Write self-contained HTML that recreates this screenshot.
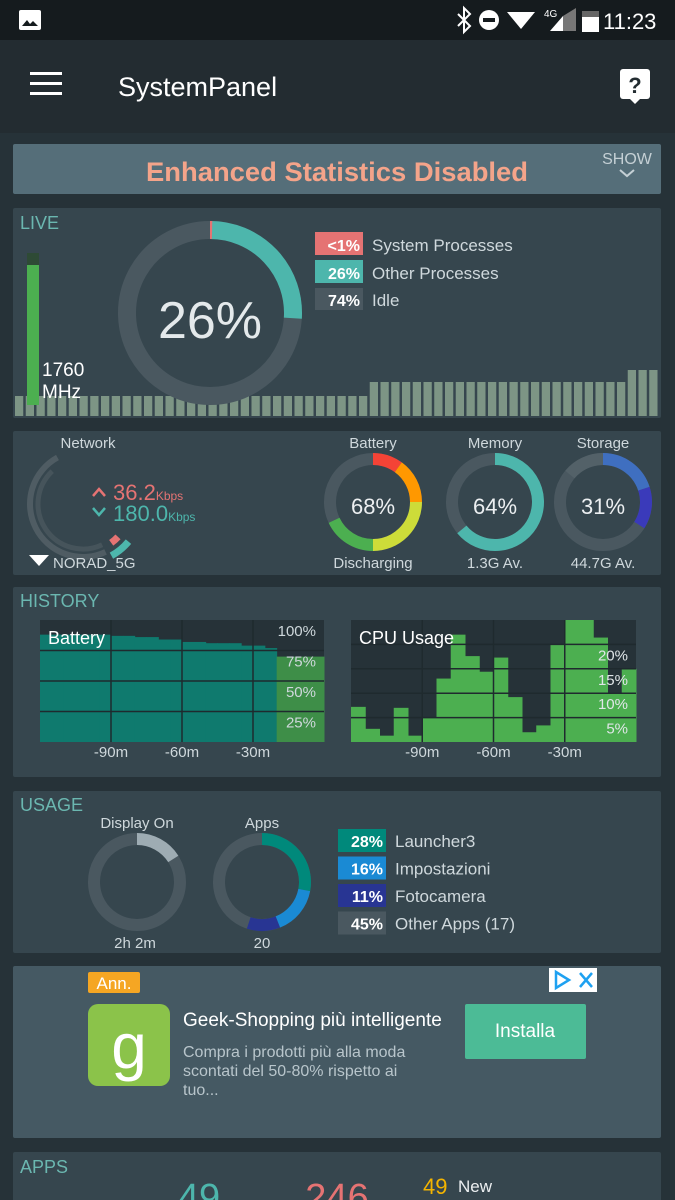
<!DOCTYPE html>
<html><head><meta charset="utf-8"><style>
html,body{margin:0;padding:0;background:#263238;}
svg{display:block;font-family:"Liberation Sans",sans-serif;}
</style></head><body>
<svg id="root" width="675" height="1200" viewBox="0 0 675 1200" xmlns="http://www.w3.org/2000/svg">
<rect width="675" height="1200" fill="#263238"/>
<!-- status bar -->
<rect x="0" y="0" width="675" height="40" fill="#151b1e"/>
<rect x="19" y="10" width="22" height="20" rx="2" fill="#fff"/>
<path d="M22 26 L27 20 L30 24 L33 21 L38 26 Z" fill="#151b1e"/>
<path d="M458 14 L470 26 L464 32 L464 8 L470 14 L458 26" stroke="#fff" stroke-width="2" fill="none"/>
<circle cx="489" cy="20" r="10" fill="#fff"/>
<rect x="483" y="18" width="12" height="4" fill="#151b1e"/>
<path d="M507 12 L535 12 L521 29 Z" fill="#fff"/>
<text x="544" y="17" fill="#fff" font-size="10">4G</text>
<path d="M550 31 L563 16 L563 31 Z" fill="#fff"/><path d="M563 16 L576 8 L576 31 L563 31 Z" fill="#777"/>
<rect x="582" y="11" width="17" height="21" fill="#fff"/>
<rect x="582" y="11" width="17" height="6" fill="#666"/>
<text x="603" y="29" fill="#fff" font-size="22">11:23</text>
<!-- app bar -->
<rect x="0" y="40" width="675" height="93" fill="#232c31"/>
<g><rect x="30" y="72" width="32" height="3" fill="#fff"/><rect x="30" y="82" width="32" height="3" fill="#fff"/><rect x="30" y="92" width="32" height="3" fill="#fff"/></g>
<text x="118" y="96" fill="#fff" font-size="27">SystemPanel</text>
<g><rect x="620" y="69" width="30" height="30" rx="3" fill="#fff"/><path d="M630 99 L635 104 L640 99 Z" fill="#fff"/><text x="635" y="93" text-anchor="middle" font-size="22" font-weight="bold" fill="#232c31">?</text></g>
<!-- banner -->
<rect x="13" y="144" width="648" height="50" rx="2" fill="#556e79"/>
<text x="337" y="181" text-anchor="middle" fill="#f4a48a" font-size="27" font-weight="bold" textLength="382" lengthAdjust="spacingAndGlyphs">Enhanced Statistics Disabled</text>
<text x="627" y="164" text-anchor="middle" fill="#c5d0d5" font-size="16">SHOW</text>
<path d="M620 170 L627 176 L634 170" stroke="#c5d0d5" stroke-width="2" fill="none"/>

<!-- LIVE card -->
<rect x="13" y="208" width="648" height="210" rx="2" fill="#36464e"/>
<text x="20" y="229" fill="#6bb7b0" font-size="18">LIVE</text>
<g id="liveBars"></g>
<rect x="27" y="253" width="12" height="152" fill="#4caf50"/>
<rect x="27" y="253" width="12" height="12" fill="#2e4a35"/>
<text x="42" y="376" fill="#fff" font-size="19">1760</text>
<text x="42" y="398" fill="#fff" font-size="19">MHz</text>
<g id="cpuDonut"></g>
<text x="210" y="338" text-anchor="middle" fill="#e4e9eb" font-size="52">26%</text>
<g><rect x="315" y="232" width="48" height="23" fill="#e57373"/><text x="360" y="251" text-anchor="end" fill="#fff" font-size="16" font-weight="bold">&lt;1%</text><text x="372" y="251" fill="#cfd8dc" font-size="17">System Processes</text></g>
<g><rect x="315" y="260" width="48" height="23" fill="#4db6ac"/><text x="360" y="279" text-anchor="end" fill="#fff" font-size="16" font-weight="bold">26%</text><text x="372" y="279" fill="#cfd8dc" font-size="17">Other Processes</text></g>
<g><rect x="315" y="288" width="48" height="22" fill="#4a5860"/><text x="360" y="306" text-anchor="end" fill="#fff" font-size="16" font-weight="bold">74%</text><text x="372" y="306" fill="#cfd8dc" font-size="17">Idle</text></g>

<!-- Network/Battery/Memory/Storage card -->
<rect x="13" y="431" width="648" height="144" rx="2" fill="#36464e"/>
<text x="88" y="448" text-anchor="middle" fill="#cfd8dc" font-size="15">Network</text>
<g id="netGauge"></g>
<path d="M93 496 L99 489 L105 496" stroke="#e57373" stroke-width="2.5" fill="none"/>
<text x="113" y="500" fill="#e57373" font-size="22">36.2<tspan font-size="12">Kbps</tspan></text>
<path d="M93 508 L99 515 L105 508" stroke="#4db6ac" stroke-width="2.5" fill="none"/>
<text x="113" y="521" fill="#4db6ac" font-size="22">180.0<tspan font-size="12">Kbps</tspan></text>
<path d="M29 555 L49 555 L39 566 Z" fill="#fff"/>
<text x="53" y="568" fill="#cfd8dc" font-size="15">NORAD_5G</text>
<text x="373" y="448" text-anchor="middle" fill="#cfd8dc" font-size="15">Battery</text>
<g id="batDonut"></g>
<text x="373" y="514" text-anchor="middle" fill="#eceff1" font-size="22">68%</text>
<text x="373" y="568" text-anchor="middle" fill="#cfd8dc" font-size="15">Discharging</text>
<text x="495" y="448" text-anchor="middle" fill="#cfd8dc" font-size="15">Memory</text>
<g id="memDonut"></g>
<text x="495" y="514" text-anchor="middle" fill="#eceff1" font-size="22">64%</text>
<text x="495" y="568" text-anchor="middle" fill="#cfd8dc" font-size="15">1.3G Av.</text>
<text x="603" y="448" text-anchor="middle" fill="#cfd8dc" font-size="15">Storage</text>
<g id="stoDonut"></g>
<text x="603" y="514" text-anchor="middle" fill="#eceff1" font-size="22">31%</text>
<text x="603" y="568" text-anchor="middle" fill="#cfd8dc" font-size="15">44.7G Av.</text>

<!-- HISTORY card -->
<rect x="13" y="587" width="648" height="190" rx="2" fill="#36464e"/>
<text x="20" y="607" fill="#6bb7b0" font-size="18">HISTORY</text>
<g id="batHist"></g>
<g id="cpuHist"></g>

<!-- USAGE card -->
<rect x="13" y="791" width="648" height="162" rx="2" fill="#36464e"/>
<text x="20" y="811" fill="#6bb7b0" font-size="18">USAGE</text>
<text x="137" y="828" text-anchor="middle" fill="#cfd8dc" font-size="15">Display On</text>
<g id="dispDonut"></g>
<text x="135" y="948" text-anchor="middle" fill="#cfd8dc" font-size="15">2h 2m</text>
<text x="262" y="828" text-anchor="middle" fill="#cfd8dc" font-size="15">Apps</text>
<g id="appsDonut"></g>
<text x="262" y="948" text-anchor="middle" fill="#cfd8dc" font-size="15">20</text>
<g id="usageLegend"></g>

<!-- AD card -->
<rect x="13" y="966" width="648" height="172" rx="2" fill="#455963"/>
<rect x="88" y="972" width="52" height="21" rx="2" fill="#f5a623"/>
<text x="114" y="989" text-anchor="middle" fill="#fff" font-size="17">Ann.</text>
<g><rect x="549" y="968" width="48" height="24" fill="#fff"/><path d="M556 972 L569 980 L556 988 Z" fill="none" stroke="#1ea1f1" stroke-width="2.5"/><path d="M580 973 L592 987 M592 973 L580 987" stroke="#1ea1f1" stroke-width="2.5"/></g>
<rect x="88" y="1004" width="82" height="82" rx="10" fill="#8bc34a"/>
<text x="129" y="1068" text-anchor="middle" fill="#fff" font-size="64">g</text>
<text x="183" y="1026" fill="#fff" font-size="19">Geek-Shopping più intelligente</text>
<text x="183" y="1057" fill="#b8c5cb" font-size="16"><tspan x="183">Compra i prodotti più alla moda</tspan><tspan x="183" dy="19">scontati del 50-80% rispetto ai</tspan><tspan x="183" dy="19">tuo...</tspan></text>
<rect x="465" y="1004" width="121" height="55" rx="2" fill="#4cbb96"/>
<text x="525" y="1037" text-anchor="middle" fill="#fff" font-size="19">Installa</text>

<!-- APPS card -->
<rect x="13" y="1152" width="648" height="60" rx="2" fill="#36464e"/>
<text x="20" y="1173" fill="#6bb7b0" font-size="18">APPS</text>
<text x="199" y="1210" text-anchor="middle" fill="#4db6ac" font-size="38">49</text>
<text x="337" y="1210" text-anchor="middle" fill="#e57373" font-size="38">246</text>
<text x="423" y="1194" fill="#f4b400" font-size="22">49</text>
<text x="458" y="1192" fill="#eceff1" font-size="17">New</text>
</svg>
<script>
// ---- data ----
const liveBarValues = [40,40,40,40,40,40,40,40,40,40,40,40,40,40,40,40,40,40,40,40,40,40,40,40,40,40,40,40,40,40,40,40,40,68,68,68,68,68,68,68,68,68,68,68,68,68,68,68,68,68,68,68,68,68,68,68,68,92,92,92];
const cpuSystem = 0.01;
const cpuOther = 0.26;
const batteryLevels = [88,88,88,88,88,88,87,87,86,86,84,84,82,82,81,81,81,79,79,77,70,70,70,70];
const batteryChargingFrom = 20;
const batteryTicks = ["100%","75%","50%","25%"];
const cpuHistory = [7.2,2.7,1.3,7,1.3,5,13,22,17.6,14.4,17.3,9.2,2,3.4,20,25,25,21.4,10,15];
const cpuTicks = ["20%","15%","10%","5%"];
const cpuTickValues = [20,15,10,5];
const timeTicks = ["-90m","-60m","-30m"];
const timeTickValues = [-90,-60,-30];
const batterySegments = [0.10,0.15,0.25,0.18];
const batteryColors = ["#f44336","#ff9800","#cddc39","#4caf50"];
const memoryUsed = 0.64;
const storageSegments = [0.20,0.14];
const displayOnShare = 0.16;
const appsNames = ["Launcher3","Impostazioni","Fotocamera","Other Apps (17)"];
const appsShares = [28,16,11,45];
const appsColors = ["#00897b","#1a8ad4","#283593","#4a5860"];

const NS="http://www.w3.org/2000/svg";
function mk(tag,attrs,parent){const e=document.createElementNS(NS,tag);for(const k in attrs)e.setAttribute(k,attrs[k]);parent.appendChild(e);return e;}
function arcPath(cx,cy,r,f0,f1){
  const a0=(f0*360-90)*Math.PI/180,a1=(f1*360-90)*Math.PI/180;
  const x0=cx+r*Math.cos(a0),y0=cy+r*Math.sin(a0),x1=cx+r*Math.cos(a1),y1=cy+r*Math.sin(a1);
  const large=(f1-f0)>0.5?1:0;
  if(f1-f0>=0.9999) return `M${cx} ${cy-r} A${r} ${r} 0 1 1 ${cx-0.01} ${cy-r}`;
  return `M${x0} ${y0} A${r} ${r} 0 ${large} 1 ${x1} ${y1}`;
}
function seg(g,cx,cy,r,w,f0,f1,color,name){
  const p=mk('path',{d:arcPath(cx,cy,r,f0,f1),stroke:color,'stroke-width':w,fill:'none'},g);
  
  
  return p;
}

(function(){
  const g=document.getElementById('liveBars');
  const base=416, maxH=50, pitch=645/liveBarValues.length;
  liveBarValues.forEach((v,i)=>{
    const h=v/100*maxH;
    const r=mk('rect',{x:15+i*pitch,y:base-h,width:pitch-2.5,height:h,fill:'#7d9585'},g);
    
    
  });
})();

(function(){
  const g=document.getElementById('cpuDonut');
  seg(g,210,313,83,18,0,1,'#4a5860','cpu-idle-arc');
  seg(g,210,313,83,18,0,cpuOther,'#4db6ac','cpu-other-arc');
  seg(g,210,313,83,18,0,Math.max(cpuSystem*0.4,0.004),'#e57373','cpu-system-arc');
})();

(function(){
  const g=document.getElementById('netGauge');
  seg(g,83,504,53,6,0.43,0.92,'#4f5c63','network-outer-ring');
  seg(g,83,504,45,5,0.43,0.88,'#46545b','network-inner-ring');
  seg(g,83,504,59,7,0.36,0.42,'#4db6ac','network-download-arc');
  seg(g,83,504,48,7,0.37,0.40,'#e57373','network-upload-arc');
})();

(function(){
  const g=document.getElementById('batDonut');
  seg(g,373,502,43,12,0,1,'#4a5860','battery-track');
  let f=0;
  batterySegments.forEach((s,i)=>{seg(g,373,502,43,12,f,f+s,batteryColors[i],'battery-segment');f+=s;});
})();
(function(){
  const g=document.getElementById('memDonut');
  seg(g,495,502,43,12,0,1,'#4a5860','memory-track');
  seg(g,495,502,43,12,0,memoryUsed,'#4db6ac','memory-used-arc');
})();
(function(){
  const g=document.getElementById('stoDonut');
  seg(g,603,502,43,12,0,1,'#4a5860','storage-track');
  seg(g,603,502,43,12,0.86,1,'#536168','storage-system-arc');
  seg(g,603,502,43,12,0,storageSegments[0],'#3f6fc0','storage-segment');
  seg(g,603,502,43,12,storageSegments[0],storageSegments[0]+storageSegments[1],'#3a3aba','storage-segment');
})();

function histFrame(g,x0,x1,y0,y1,prefix){
  mk('rect',{x:x0,y:y0,width:x1-x0,height:y1-y0,fill:'#263238'},g);
}
const tx=t=>40+(t+120)/120*284;
const cx2=t=>351+(t+120)/120*285;
(function(){
  const g=document.getElementById('batHist');
  const y0=620,y1=742,x0=40,x1=324;
  histFrame(g,x0,x1,y0,y1,'battery-history');
  const yv=v=>y1-v/100*(y1-y0);
  const w=(x1-x0)/batteryLevels.length;
  batteryLevels.forEach((v,i)=>{
    const r=mk('rect',{x:x0+i*w,y:yv(v),width:w+0.5,height:y1-yv(v),fill:i>=batteryChargingFrom?'#3e8e48':'#0f7a6e'},g);
    
    
  });
  [75,50,25].forEach(v=>{const l=mk('line',{x1:x0,x2:x1,y1:yv(v),y2:yv(v),stroke:'#1f2a2e','stroke-width':1.5},g);});
  timeTickValues.forEach((t,i)=>{
    const l=mk('line',{x1:tx(t),x2:tx(t),y1:y0,y2:y1,stroke:'#1f2a2e','stroke-width':1.5},g);
    
    const tt=mk('text',{x:tx(t),y:757,'text-anchor':'middle',fill:'#cfd8dc','font-size':15},g);tt.textContent=timeTicks[i];
    
    
  });
  batteryTicks.forEach((s,i)=>{
    const v=[100,75,50,25][i];
    const t=mk('text',{x:316,y:yv(v)+16,'text-anchor':'end',fill:'#cfd8dc','font-size':15},g);t.textContent=s;
    
    
  });
  const title=mk('text',{x:48,y:644,fill:'#fff','font-size':18},g);title.textContent='Battery';
  
  
})();
(function(){
  const g=document.getElementById('cpuHist');
  const y0=620,y1=742,x0=351,x1=636;
  histFrame(g,x0,x1,y0,y1,'cpu-history');
  const yv=v=>y1-v/25*(y1-y0);
  const w=(x1-x0)/cpuHistory.length;
  cpuHistory.forEach((v,i)=>{
    const r=mk('rect',{x:x0+i*w,y:yv(v),width:w+0.5,height:y1-yv(v),fill:'#4caf50'},g);
    
    
  });
  cpuTickValues.forEach((v,i)=>{
    const l=mk('line',{x1:x0,x2:x1,y1:yv(v),y2:yv(v),stroke:'#1f2a2e','stroke-width':1.5},g);
    const t=mk('text',{x:628,y:yv(v)+16,'text-anchor':'end',fill:'#e0e6e8','font-size':15},g);t.textContent=cpuTicks[i];
    
    
  });
  timeTickValues.forEach((t,i)=>{
    const l=mk('line',{x1:cx2(t),x2:cx2(t),y1:y0,y2:y1,stroke:'#1f2a2e','stroke-width':1.5},g);
    
    const tt=mk('text',{x:cx2(t),y:757,'text-anchor':'middle',fill:'#cfd8dc','font-size':15},g);tt.textContent=timeTicks[i];
    
    
  });
  const title=mk('text',{x:359,y:644,fill:'#fff','font-size':18},g);title.textContent='CPU Usage';
  
  
})();

(function(){
  const g=document.getElementById('dispDonut');
  seg(g,137,882,43,12,0,1,'#4a5860','display-on-track');
  seg(g,137,882,43,12,0,displayOnShare,'#9eacb3','display-on-arc');
  const g2=document.getElementById('appsDonut');
  seg(g2,262,882,43,12,0,1,'#4a5860','apps-track');
  let f=0;
  for(let i=0;i<3;i++){seg(g2,262,882,43,12,f,f+appsShares[i]/100,appsColors[i],'apps-usage-segment');f+=appsShares[i]/100;}
  const lg=document.getElementById('usageLegend');
  appsNames.forEach((n,i)=>{
    const y=829+i*27.5;
    const r=mk('rect',{x:338,y:y,width:48,height:23,fill:appsColors[i]},lg);
    
    
    const p=mk('text',{x:383,y:y+18,'text-anchor':'end',fill:'#fff','font-size':16,'font-weight':'bold'},lg);p.textContent=appsShares[i]+'%';
    
    
    const t=mk('text',{x:395,y:y+18,fill:'#cfd8dc','font-size':17},lg);t.textContent=n;
    
    
  });
})();
</script>
</body></html>
